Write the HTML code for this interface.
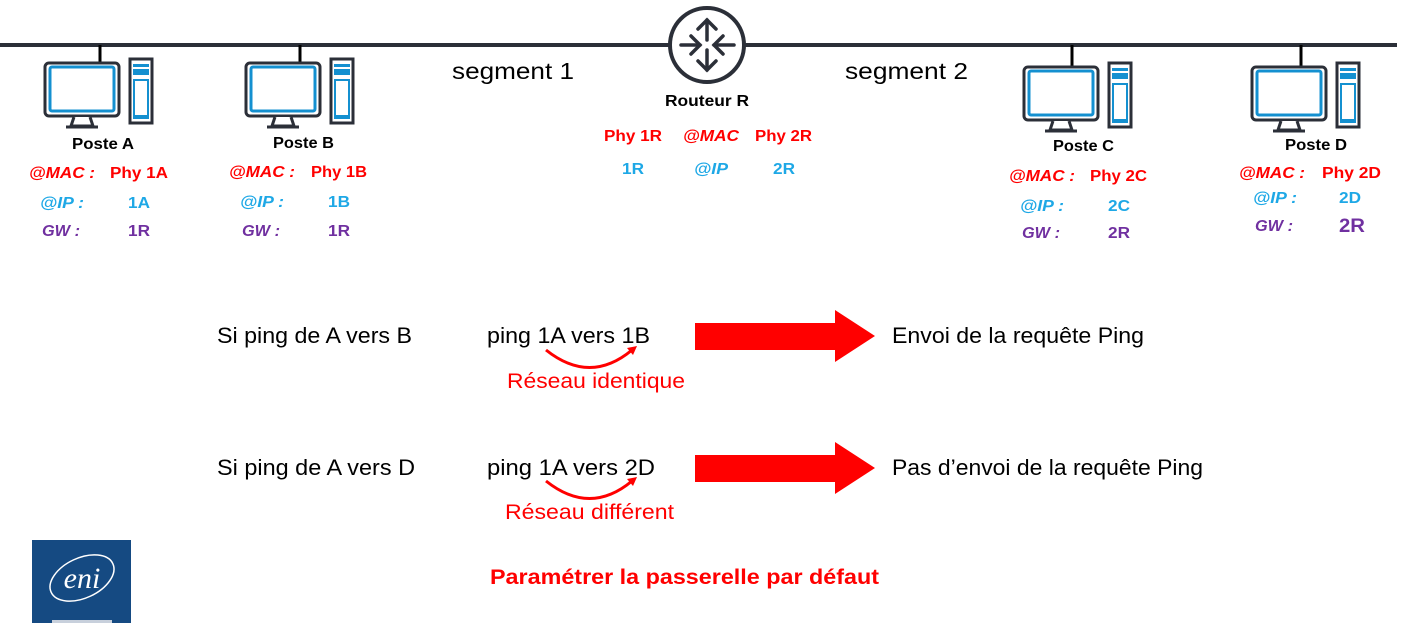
<!DOCTYPE html>
<html><head><meta charset="utf-8"><style>
html,body{margin:0;padding:0;background:#fff;width:1409px;height:623px;overflow:hidden}
svg{display:block}
text{font-family:"Liberation Sans",sans-serif}
.b{font-weight:bold;font-size:16px}
.r{fill:#ff0000}.c{fill:#1ea8e6}.p{fill:#7030a0}.k{fill:#000}
.i{font-style:italic}
</style></head><body>
<svg width="1409" height="623" viewBox="0 0 1409 623">
<defs>
<g id="pc">
<rect x="1" y="1" width="74" height="53" rx="4" fill="#fff" stroke="#2b2f38" stroke-width="3"/>
<rect x="6" y="5" width="64" height="44" rx="2" fill="#fff" stroke="#1490d0" stroke-width="3"/>
<path d="M30 55 L27 64 L49 64 L46 55" fill="#fff" stroke="#2b2f38" stroke-width="3"/>
<line x1="22" y1="65" x2="54" y2="65" stroke="#2b2f38" stroke-width="3"/>
<rect x="86" y="-3" width="22" height="64" fill="#fff" stroke="#2b2f38" stroke-width="3"/>
<rect x="89" y="2" width="16" height="3" fill="#1490d0"/>
<rect x="89" y="7" width="16" height="6" fill="#1490d0"/>
<rect x="89" y="17" width="16" height="40" fill="#1490d0"/>
<rect x="91" y="19" width="12" height="34" fill="#fff"/>
</g>
</defs>
<line x1="0" y1="45" x2="1397" y2="45" stroke="#2b2f38" stroke-width="4"/>
<g stroke="#000" stroke-width="3">
<line x1="100" y1="45" x2="100" y2="62"/>
<line x1="300" y1="45" x2="300" y2="62"/>
<line x1="1072" y1="45" x2="1072" y2="66"/>
<line x1="1301" y1="45" x2="1301" y2="66"/>
</g>
<use href="#pc" x="44" y="62"/>
<use href="#pc" x="245" y="62"/>
<use href="#pc" x="1023" y="66"/>
<use href="#pc" x="1251" y="66"/>
<circle cx="707" cy="45" r="37" fill="#fff" stroke="#2b2f38" stroke-width="4"/>
<g stroke="#2b2f38" stroke-width="3.5" fill="none" stroke-linecap="round">
<line x1="707" y1="20" x2="707" y2="40"/><polyline points="698,29 707,20 716,29"/>
<line x1="707" y1="50" x2="707" y2="70"/><polyline points="698,61 707,70 716,61"/>
<line x1="681" y1="45" x2="700" y2="45"/><polyline points="691,36 700,45 691,54"/>
<line x1="714" y1="45" x2="734" y2="45"/><polyline points="723,36 714,45 723,54"/>
</g>
<g lengthAdjust="spacingAndGlyphs">
<text x="665" y="106" class="b k" textLength="84" lengthAdjust="spacingAndGlyphs">Routeur R</text>
<text x="604" y="141" class="b r" textLength="58" lengthAdjust="spacingAndGlyphs">Phy 1R</text>
<text x="683" y="141" class="b r i" textLength="56" lengthAdjust="spacingAndGlyphs">@MAC</text>
<text x="755" y="141" class="b r" textLength="57" lengthAdjust="spacingAndGlyphs">Phy 2R</text>
<text x="622" y="174" class="b c" textLength="22" lengthAdjust="spacingAndGlyphs">1R</text>
<text x="694" y="174" class="b c i" textLength="34" lengthAdjust="spacingAndGlyphs">@IP</text>
<text x="773" y="174" class="b c" textLength="22" lengthAdjust="spacingAndGlyphs">2R</text>
<text x="452" y="79" font-size="23" textLength="122" lengthAdjust="spacingAndGlyphs">segment 1</text>
<text x="845" y="79" font-size="23" textLength="123" lengthAdjust="spacingAndGlyphs">segment 2</text>
<!-- Poste A -->
<text x="72" y="149" class="b k" textLength="62" lengthAdjust="spacingAndGlyphs">Poste A</text>
<text x="29" y="178" class="b r i" textLength="66" lengthAdjust="spacingAndGlyphs">@MAC :</text><text x="110" y="178" class="b r" textLength="58" lengthAdjust="spacingAndGlyphs">Phy 1A</text>
<text x="40" y="208" class="b c i" textLength="44" lengthAdjust="spacingAndGlyphs">@IP :</text><text x="128" y="208" class="b c" textLength="22" lengthAdjust="spacingAndGlyphs">1A</text>
<text x="42" y="236" class="b p i" textLength="38" lengthAdjust="spacingAndGlyphs">GW :</text><text x="128" y="236" class="b p" textLength="22" lengthAdjust="spacingAndGlyphs">1R</text>
<!-- Poste B -->
<text x="273" y="148" class="b k" textLength="61" lengthAdjust="spacingAndGlyphs">Poste B</text>
<text x="229" y="177" class="b r i" textLength="66" lengthAdjust="spacingAndGlyphs">@MAC :</text><text x="311" y="177" class="b r" textLength="56" lengthAdjust="spacingAndGlyphs">Phy 1B</text>
<text x="240" y="207" class="b c i" textLength="44" lengthAdjust="spacingAndGlyphs">@IP :</text><text x="328" y="207" class="b c" textLength="22" lengthAdjust="spacingAndGlyphs">1B</text>
<text x="242" y="236" class="b p i" textLength="38" lengthAdjust="spacingAndGlyphs">GW :</text><text x="328" y="236" class="b p" textLength="22" lengthAdjust="spacingAndGlyphs">1R</text>
<!-- Poste C -->
<text x="1053" y="151" class="b k" textLength="61" lengthAdjust="spacingAndGlyphs">Poste C</text>
<text x="1009" y="181" class="b r i" textLength="66" lengthAdjust="spacingAndGlyphs">@MAC :</text><text x="1090" y="181" class="b r" textLength="57" lengthAdjust="spacingAndGlyphs">Phy 2C</text>
<text x="1020" y="211" class="b c i" textLength="44" lengthAdjust="spacingAndGlyphs">@IP :</text><text x="1108" y="211" class="b c" textLength="22" lengthAdjust="spacingAndGlyphs">2C</text>
<text x="1022" y="238" class="b p i" textLength="38" lengthAdjust="spacingAndGlyphs">GW :</text><text x="1108" y="238" class="b p" textLength="22" lengthAdjust="spacingAndGlyphs">2R</text>
<!-- Poste D -->
<text x="1285" y="150" class="b k" textLength="62" lengthAdjust="spacingAndGlyphs">Poste D</text>
<text x="1239" y="178" class="b r i" textLength="66" lengthAdjust="spacingAndGlyphs">@MAC :</text><text x="1322" y="178" class="b r" textLength="59" lengthAdjust="spacingAndGlyphs">Phy 2D</text>
<text x="1253" y="203" class="b c i" textLength="44" lengthAdjust="spacingAndGlyphs">@IP :</text><text x="1339" y="203" class="b c" textLength="22" lengthAdjust="spacingAndGlyphs">2D</text>
<text x="1255" y="231" class="b p i" textLength="38" lengthAdjust="spacingAndGlyphs">GW :</text><text x="1339" y="232" font-weight="bold" font-size="19" class="p" textLength="26" lengthAdjust="spacingAndGlyphs">2R</text>
<!-- rows -->
<text x="217" y="343" font-size="22" textLength="195" lengthAdjust="spacingAndGlyphs">Si ping de A vers B</text>
<text x="487" y="343" font-size="22" textLength="163" lengthAdjust="spacingAndGlyphs">ping 1A vers 1B</text>
<text x="507" y="388" font-size="21" class="r" textLength="178" lengthAdjust="spacingAndGlyphs">Réseau identique</text>
<text x="892" y="343" font-size="22" textLength="252" lengthAdjust="spacingAndGlyphs">Envoi de la requête Ping</text>
<text x="217" y="475" font-size="22" textLength="198" lengthAdjust="spacingAndGlyphs">Si ping de A vers D</text>
<text x="487" y="475" font-size="22" textLength="168" lengthAdjust="spacingAndGlyphs">ping 1A vers 2D</text>
<text x="505" y="519" font-size="21" class="r" textLength="169" lengthAdjust="spacingAndGlyphs">Réseau différent</text>
<text x="892" y="475" font-size="22" textLength="311" lengthAdjust="spacingAndGlyphs">Pas d’envoi de la requête Ping</text>
<text x="490" y="584" font-weight="bold" font-size="21" class="r" textLength="389" lengthAdjust="spacingAndGlyphs">Paramétrer la passerelle par défaut</text>
</g>
<path d="M546 350 Q590 385 632 350" fill="none" stroke="#ff0000" stroke-width="3"/>
<polygon points="627,348 637,346 633,355" fill="#ff0000"/>
<polygon points="695,323 835,323 835,310 875,336 835,362 835,350 695,350" fill="#ff0000"/>
<path d="M546 481 Q590 516 632 481" fill="none" stroke="#ff0000" stroke-width="3"/>
<polygon points="627,479 637,477 633,486" fill="#ff0000"/>
<polygon points="695,455 835,455 835,442 875,468 835,494 835,482 695,482" fill="#ff0000"/>
<rect x="32" y="540" width="99" height="83" fill="#154a82"/>
<ellipse cx="82" cy="578" rx="34" ry="20" transform="rotate(-25 82 578)" fill="none" stroke="#fff" stroke-width="1.5"/>
<text x="82" y="588" text-anchor="middle" font-style="italic" font-size="30" fill="#fff" style="font-family:'Liberation Serif',serif">eni</text>
<rect x="52" y="620" width="60" height="3" fill="#c8d0dc"/>
</svg>
</body></html>
